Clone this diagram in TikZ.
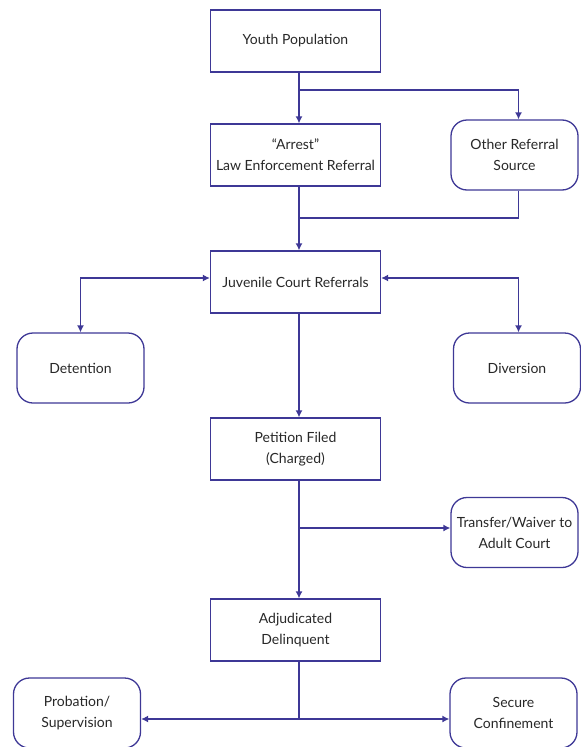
\documentclass[tikz,border=0pt]{standalone}
\usepackage{fontspec}
\setmainfont{Lato}
\usetikzlibrary{arrows.meta}

\begin{document}
\begin{tikzpicture}[x=1pt,y=-1pt,>={Latex[length=7pt,width=7pt]},
    flow/.style={draw=lineblue,line width=1.3pt},
    box/.style={draw=lineblue,line width=1.3pt,fill=white,align=center,text=textgray,
        font=\fontsize{14}{21}\selectfont,minimum width=170pt,minimum height=62pt,inner sep=0pt},
    rbox/.style={box,rounded corners=16pt,minimum width=127pt,minimum height=70pt}]
            \definecolor{lineblue}{RGB}{62,56,150}
            \definecolor{textgray}{RGB}{40,40,40}
            \useasboundingbox (0,0) rectangle (581,747);

            % spines of the chart
            \coordinate (spine) at (299,0);
            \coordinate (rspine) at (518.5,0);

            % main column
            \node[box] (youth) at (295.5,41) {Youth Population};
            \node[box] (arrest) at (295.5,155) {``Arrest''\\Law Enforcement Referral};
            \node[box] (juvenile) at (295.5,282) {Juvenile Court Referrals};
            \node[box] (petition) at (295.5,449) {Petition Filed\\(Charged)};
            \node[box] (adjudicated) at (295.5,630) {Adjudicated\\Delinquent};

            % side boxes
            \node[rbox] (other) at (514.5,155) {Other Referral\\Source};
            \node[rbox] (detention) at (80.5,368) {Detention};
            \node[rbox] (diversion) at (517,368) {Diversion};
            \node[rbox] (transfer) at (514.5,532.5) {Transfer/Waiver to\\Adult Court};
            \node[rbox] (probation) at (77,713) {Probation/\\Supervision};
            \node[rbox] (secure) at (513.5,713) {Secure\\Confinement};

            % junction points
            \coordinate (split1) at (299,90);
            \coordinate (join1) at (299,218);
            \coordinate (split2) at (299,528);
            \coordinate (split3) at (299,719);

            % youth -> arrest / other
            \draw[flow,->] (youth.south -| spine) -- (arrest.north -| spine);
            \draw[flow,->] (split1) -| (other.north -| rspine);

            % arrest / other -> juvenile court
            \draw[flow] (arrest.south -| spine) -- (join1);
            \draw[flow] (other.south -| rspine) |- (join1);
            \draw[flow,->] (join1) -- (juvenile.north -| spine);

            % detention and diversion, both ways
            \draw[flow,<->] (juvenile.west |- 0,278) -| (detention.north);
            \draw[flow,<->] (juvenile.east |- 0,278) -| (diversion.north -| rspine);

            % petition and transfer
            \draw[flow,->] (juvenile.south -| spine) -- (petition.north -| spine);
            \draw[flow,->] (petition.south -| spine) -- (adjudicated.north -| spine);
            \draw[flow,->] (split2) -- (transfer.west |- split2);

            % dispositions
            \draw[flow] (adjudicated.south -| spine) -- (split3);
            \draw[flow,->] (split3) -- (probation.east |- split3);
            \draw[flow,->] (split3) -- (secure.west |- split3);
\end{tikzpicture}
\end{document}
